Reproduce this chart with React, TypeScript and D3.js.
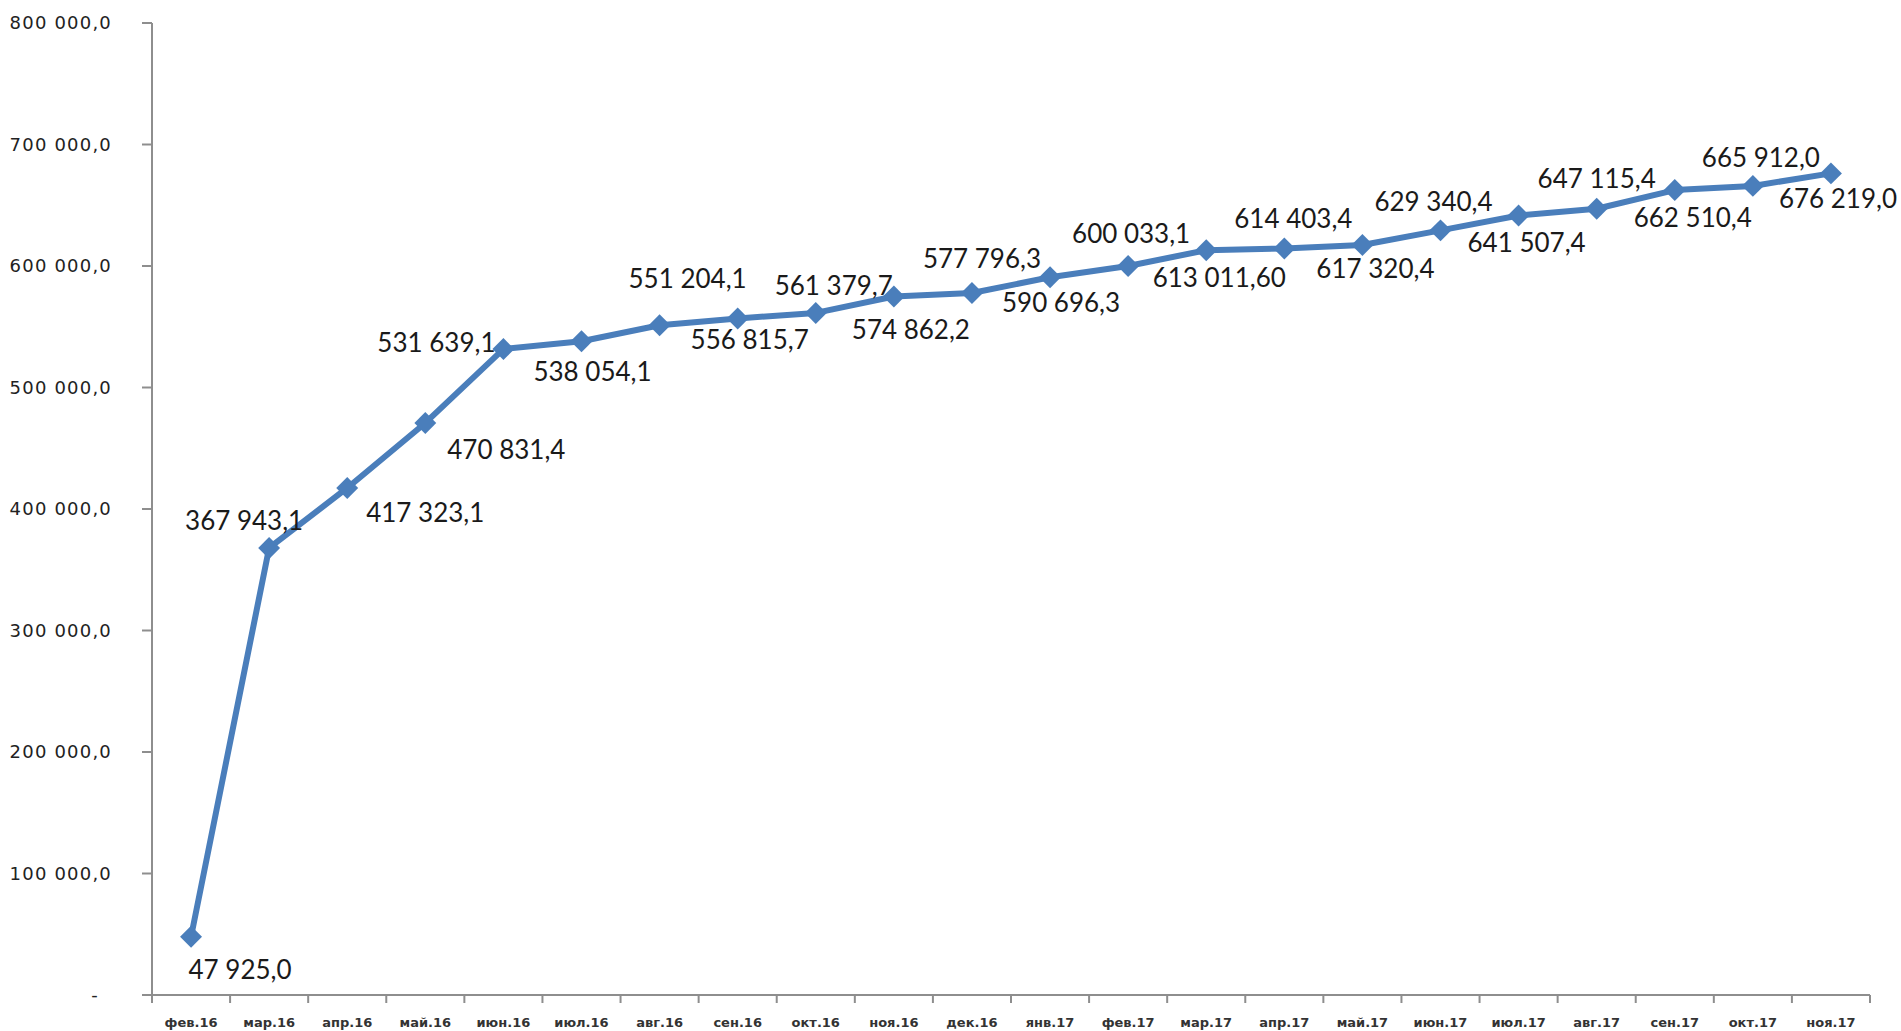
import * as d3 from "d3";

const MONTHS = [
  "фев.16", "мар.16", "апр.16", "май.16", "июн.16", "июл.16", "авг.16", "сен.16",
  "окт.16", "ноя.16", "дек.16", "янв.17", "фев.17", "мар.17", "апр.17", "май.17",
  "июн.17", "июл.17", "авг.17", "сен.17", "окт.17", "ноя.17",
];

const VALUES = [
  47925.0, 367943.1, 417323.1, 470831.4, 531639.1, 538054.1, 551204.1, 556815.7,
  561379.7, 574862.2, 577796.3, 590696.3, 600033.1, 613011.6, 614403.4, 617320.4,
  629340.4, 641507.4, 647115.4, 662510.4, 665912.0, 676219.0,
];

// decimals shown in each data label
const LABEL_DECIMALS = [1, 1, 1, 1, 1, 1, 1, 1, 1, 1, 1, 1, 1, 2, 1, 1, 1, 1, 1, 1, 1, 1];

const Y_TICKS = [0, 100000, 200000, 300000, 400000, 500000, 600000, 700000, 800000];

// label offsets from each marker (dx, dy), as placed in the original chart
const LABEL_DX = [49, -25, 78, 81, -67, 11, 28, 12, 18, 17, 10, 11, 3, 13, 9, 13, -7, 8, 0, 18, 8, 7];
const LABEL_DY = [33, -27, 25, 27, -6, 31, -46, 21, -27, 33, -34, 26, -32, 28, -30, 24, -28, 27, -30, 28, -28, 26];

const W = 1901;
const H = 1031;
const LEFT = 152;
const RIGHT = 1870;
const TOP = 23;
const BOTTOM = 995;
const BLUE = "#4a7ebb";
const AXIS = "#8e8e8e";

const ru = d3.formatLocale({ decimal: ",", thousands: " ", grouping: [3], currency: ["", ""] });

export default function App() {
  const x = d3.scaleBand<string>().domain(MONTHS).range([LEFT, RIGHT]);
  const y = d3.scaleLinear().domain([0, 800000]).range([BOTTOM, TOP]);
  const cx = (i: number) => (x(MONTHS[i]) as number) + x.bandwidth() / 2;

  const line = d3
    .line<number>()
    .x((_, i) => cx(i))
    .y((d) => y(d));

  const diamond = d3.symbol().type(d3.symbolSquare).size(240)();

  const boundaries = MONTHS.map((m) => x(m) as number).concat([RIGHT]);

  return (
    <svg
      width={W}
      height={H}
      style={{ position: "absolute", left: 0, top: 0, background: "#fff" }}
    >
      {/* y axis */}
      <line x1={LEFT} x2={LEFT} y1={TOP} y2={BOTTOM} stroke={AXIS} strokeWidth={2} />
      {Y_TICKS.map((t) => (
        <g key={t}>
          <line x1={LEFT - 10} x2={LEFT} y1={y(t)} y2={y(t)} stroke={AXIS} strokeWidth={2} />
          <text
            x={t === 0 ? 95 : 112}
            y={y(t)}
            dy="0.35em"
            textAnchor={t === 0 ? "middle" : "end"}
            fontFamily="'DejaVu Sans', sans-serif"
            fontSize={18}
            letterSpacing={1.2}
            fill="#222"
          >
            {t === 0 ? "-" : ru.format(",.1f")(t)}
          </text>
        </g>
      ))}

      {/* x axis */}
      <line x1={LEFT - 10} x2={RIGHT} y1={BOTTOM} y2={BOTTOM} stroke={AXIS} strokeWidth={2} />
      {boundaries.map((b, i) => (
        <line key={i} x1={b} x2={b} y1={BOTTOM} y2={BOTTOM + 8} stroke={AXIS} strokeWidth={2} />
      ))}
      {MONTHS.map((m, i) => (
        <text
          key={m}
          x={cx(i)}
          y={1022}
          dy="0.35em"
          textAnchor="middle"
          fontFamily="'DejaVu Sans', sans-serif"
          fontSize={13}
          fontWeight="bold"
          fill="#333"
        >
          {m}
        </text>
      ))}

      {/* series */}
      <path d={line(VALUES) || ""} fill="none" stroke={BLUE} strokeWidth={6} strokeLinejoin="round" />
      {VALUES.map((v, i) => (
        <path
          key={i}
          d={diamond || ""}
          transform={`translate(${cx(i)},${y(v)}) rotate(45)`}
          fill={BLUE}
        />
      ))}

      {/* data labels */}
      {VALUES.map((v, i) => (
        <text
          key={i}
          x={cx(i) + LABEL_DX[i]}
          y={y(v) + LABEL_DY[i]}
          dy="0.35em"
          textAnchor="middle"
          fontFamily="Lato, sans-serif"
          fontSize={26}
          fill="#1a1a1a"
        >
          {ru.format(`,.${LABEL_DECIMALS[i]}f`)(v)}
        </text>
      ))}
    </svg>
  );
}
